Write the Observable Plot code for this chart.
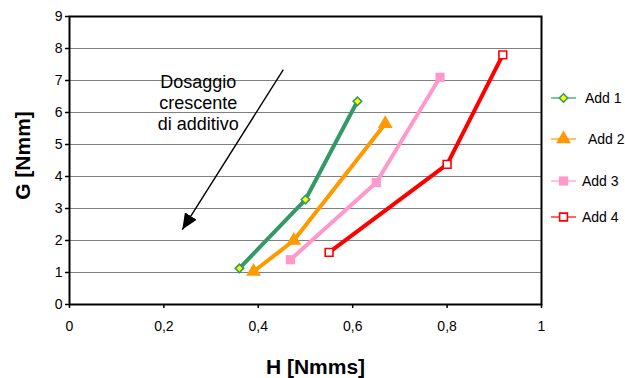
<!DOCTYPE html>
<html>
<head>
<meta charset="utf-8">
<script src="https://cdn.jsdelivr.net/npm/d3@7"></script>
<script src="https://cdn.jsdelivr.net/npm/@observablehq/plot@0.6"></script>
<style>
  body { margin: 0; background: #fff; }
  #chart svg { font-family: "Liberation Sans", Arial, sans-serif; }
</style>
</head>
<body>
<div id="chart"></div>
<script>
// ---- data ----
const seriesNames = ["Add 1", "Add 2", "Add 3", "Add 4"];
const add1H = [0.360, 0.500, 0.610];
const add1G = [1.13, 3.28, 6.35];
const add2H = [0.390, 0.475, 0.669];
const add2G = [1.03, 2.00, 5.65];
const add3H = [0.468, 0.650, 0.785];
const add3G = [1.40, 3.81, 7.10];
const add4H = [0.550, 0.800, 0.918];
const add4G = [1.63, 4.38, 7.80];
const xTicks = [0, 0.2, 0.4, 0.6, 0.8, 1];
const yTicks = [0, 1, 2, 3, 4, 5, 6, 7, 8, 9];
const xTitle = "H [Nmms]";
const yTitle = "G [Nmm]";
const noteText = "Dosaggio\ncrescente\ndi additivo";
const noteX = [0.273];
const noteY = [6.31];
const arrowFromH = [0.453];
const arrowFromG = [7.34];
const arrowToH = [0.239];
const arrowToG = [2.34];

// ---- styles ----
const styles = [
  {color: "#339966", symbol: "diamond2", fill: "#ffff00", stroke: "#339966", r: 3.8, sw: 1.6},
  {color: "#ff9900", symbol: "triangle", fill: "#ff9900", stroke: "none", r: 5.5, sw: 0},
  {color: "#ff99cc", symbol: "square", fill: "#ff99cc", stroke: "none", r: 5.2, sw: 0},
  {color: "#ff0000", symbol: "square", fill: "#ffffff", stroke: "#ff0000", r: 4.4, sw: 1.6}
];

const Hs = [add1H, add2H, add3H, add4H];
const Gs = [add1G, add2G, add3G, add4G];
const rows = [];
seriesNames.forEach((s, i) => Hs[i].forEach((h, j) => rows.push({series: s, i, H: h, G: Gs[i][j]})));

const comma = d => String(d).replace(".", ",");

const marks = [
  Plot.gridY(yTicks, {y: d => d, stroke: "#808080", strokeOpacity: 1, strokeWidth: 1}),
  Plot.axisY(yTicks, {tickSize: 4, tickPadding: 3, fontSize: 14, fill: "#000", stroke: "#000", strokeWidth: 1.5, label: null}),
  Plot.axisX(xTicks, {tickSize: 4, tickPadding: 13, fontSize: 14, tickFormat: comma, stroke: "#000", strokeWidth: 1.5, label: null}),
  Plot.frame({stroke: "#000", strokeWidth: 2}),
];
seriesNames.forEach((s, i) => {
  const data = rows.filter(r => r.i === i);
  marks.push(Plot.line(data, {x: "H", y: "G", stroke: styles[i].color, strokeWidth: 4, strokeLinejoin: "round", strokeLinecap: "butt"}));
});
seriesNames.forEach((s, i) => {
  const data = rows.filter(r => r.i === i);
  marks.push(Plot.dot(data, {x: "H", y: "G", symbol: () => styles[i].symbol, r: styles[i].r,
    fill: styles[i].fill, stroke: styles[i].stroke, strokeWidth: styles[i].sw}));
});
marks.push(
  Plot.link([0], {x1: () => arrowFromH[0], y1: () => arrowFromG[0], x2: () => arrowToH[0], y2: () => arrowToG[0],
    stroke: "#000", strokeWidth: 1.4, className: "note-arrow"}),
  Plot.text([noteText], {x: () => noteX[0], y: () => noteY[0], text: d => d, fontSize: 18, lineHeight: 1.17, fill: "#000", textAnchor: "middle"}),
  Plot.text([yTitle], {frameAnchor: "left", dx: -46, dy: -5, rotate: -90, textAnchor: "middle", lineAnchor: "middle", text: d => d, fontSize: 21, fontWeight: "bold", fill: "#000"}),
  Plot.text([xTitle], {frameAnchor: "bottom", dx: 10, dy: 63, textAnchor: "middle", lineAnchor: "middle", text: d => d, fontSize: 21, fontWeight: "bold", fill: "#000"})
);

const chart = Plot.plot({
  width: 625,
  height: 378,
  marginLeft: 69,
  marginRight: 84,
  marginTop: 16,
  marginBottom: 74,
  style: {fontFamily: "'Liberation Sans', Arial, sans-serif", background: "#fff", overflow: "visible"},
  x: {domain: [0, 1]},
  y: {domain: [0, 9]},
  marks
});
document.getElementById("chart").appendChild(chart);

// arrowhead: filled triangle
const svg = d3.select(chart);
const defs = svg.append("defs");
defs.append("marker")
  .attr("id", "note-head")
  .attr("markerUnits", "userSpaceOnUse")
  .attr("viewBox", "0 0 16 14")
  .attr("refX", 16).attr("refY", 7)
  .attr("markerWidth", 16).attr("markerHeight", 14)
  .attr("orient", "auto")
  .append("path").attr("d", "M0,0L16,7L0,14Z").attr("fill", "#000");
svg.selectAll(".note-arrow path, .note-arrow line").attr("marker-end", "url(#note-head)");

// legend
const legendY = [98, 139, 181, 217];
const legendTextX = [585, 588, 582, 582];
const symbolMap = {diamond2: d3.symbolDiamond2, triangle: d3.symbolTriangle, square: d3.symbolSquare};
const lg = svg.append("g").attr("font-size", 14).attr("text-anchor", "start")
  .attr("font-family", "'Liberation Sans', Arial, sans-serif");
seriesNames.forEach((s, i) => {
  const st = styles[i];
  const g = lg.append("g").attr("transform", `translate(0,${legendY[i]})`);
  g.append("line").attr("x1", 551).attr("x2", 576).attr("y1", 0).attr("y2", 0)
    .attr("stroke", st.color).attr("stroke-width", 1.2);
  g.append("path").attr("transform", "translate(563.5,0)")
    .attr("d", d3.symbol(symbolMap[st.symbol], Math.PI * st.r * st.r)())
    .attr("fill", st.fill).attr("stroke", st.stroke).attr("stroke-width", st.sw || null);
  g.append("text").attr("x", legendTextX[i]).attr("y", 0).attr("dy", "0.35em")
    .attr("text-anchor", "start").attr("fill", "#000").text(s);
});
</script>
</body>
</html>
